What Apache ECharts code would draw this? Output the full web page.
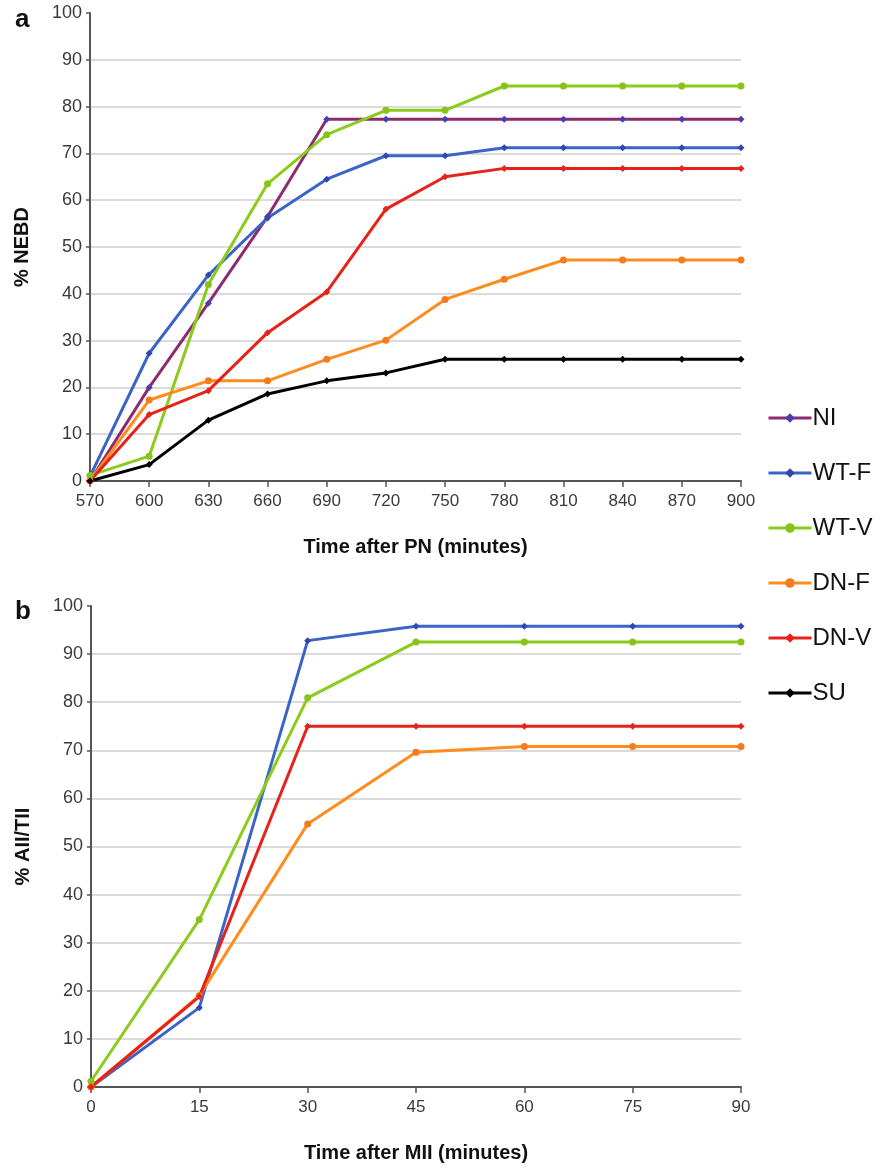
<!DOCTYPE html>
<html>
<head>
<meta charset="utf-8">
<script src="https://cdn.jsdelivr.net/npm/echarts@6/dist/echarts.min.js"></script>
<style>
  html, body { margin: 0; padding: 0; background: #fff; }
  #main { width: 890px; height: 1168px; }
</style>
</head>
<body>
<div id="main"></div>
<script>
// panel a: time after PN (minutes)
var timePN = [570, 600, 630, 660, 690, 720, 750, 780, 810, 840, 870, 900];
var niA   = [0, 20, 38, 56.5, 77.3, 77.3, 77.3, 77.3, 77.3, 77.3, 77.3, 77.3];
var wtfA  = [1, 27.3, 44, 56.2, 64.5, 69.5, 69.5, 71.2, 71.2, 71.2, 71.2, 71.2];
var wtvA  = [1.2, 5.3, 42, 63.5, 74, 79.2, 79.2, 84.4, 84.4, 84.4, 84.4, 84.4];
var dnfA  = [0, 17.3, 21.4, 21.4, 26, 30.1, 38.8, 43.1, 47.2, 47.2, 47.2, 47.2];
var dnvA  = [0, 14.2, 19.3, 31.7, 40.4, 58.1, 65, 66.8, 66.8, 66.8, 66.8, 66.8];
var suA   = [0, 3.5, 13, 18.6, 21.4, 23.1, 26, 26, 26, 26, 26, 26];

// panel b: time after MII (minutes)
var timeMII = [0, 15, 30, 45, 60, 75, 90];
var wtfB  = [0, 16.5, 92.8, 95.8, 95.8, 95.8, 95.8];
var wtvB  = [1.2, 34.8, 80.9, 92.5, 92.5, 92.5, 92.5];
var dnfB  = [0, 19, 54.7, 69.6, 70.8, 70.8, 70.8];
var dnvB  = [0, 18.8, 75, 75, 75, 75, 75];

var names = ['NI', 'WT-F', 'WT-V', 'DN-F', 'DN-V', 'SU'];

var FONT = "'Liberation Sans', Arial, sans-serif";

var styles = {
    'NI':   { line: '#8b2c70', dot: '#4a3cb4', symbol: 'diamond' },
    'WT-F': { line: '#3c64c8', dot: '#3346b0', symbol: 'diamond' },
    'WT-V': { line: '#8ccb1c', dot: '#86c41a', symbol: 'circle' },
    'DN-F': { line: '#ff8d1e', dot: '#f57a20', symbol: 'circle' },
    'DN-V': { line: '#e5231b', dot: '#e5231b', symbol: 'diamond' },
    'SU':   { line: '#000000', dot: '#000000', symbol: 'diamond' }
};

function zip(xs, ys) {
    return xs.map(function (x, i) { return [x, ys[i]]; });
}

function makeSeries(name, idx, xs, ys) {
    var s = styles[name];
    return {
        name: name,
        type: 'line',
        xAxisIndex: idx,
        yAxisIndex: idx,
        data: zip(xs, ys),
        symbol: s.symbol,
        symbolSize: 7,
        lineStyle: { color: s.line, width: 3 },
        itemStyle: { color: s.dot },
        animation: false
    };
}

function yAxisOf(idx, title) {
    return {
        gridIndex: idx,
        type: 'value',
        min: 0, max: 100, interval: 10,
        name: title,
        nameLocation: 'middle',
        nameGap: 58,
        nameTextStyle: { fontFamily: FONT, fontSize: 20, fontWeight: 'bold', color: '#111' },
        axisLine: { show: true, lineStyle: { color: '#555', width: 2 } },
        axisTick: { show: true, length: 4, lineStyle: { color: '#555', width: 1.5 } },
        axisLabel: { fontFamily: FONT, fontSize: 18, color: '#3a3a3a', margin: 8 },
        splitLine: { show: true, showMaxLine: false, lineStyle: { color: '#cfcfcf', width: 1.5 } }
    };
}

function xAxisOf(idx, xs, step, title) {
    return {
        gridIndex: idx,
        type: 'value',
        min: xs[0], max: xs[xs.length - 1], interval: step,
        name: title,
        nameLocation: 'middle',
        nameGap: 56,
        nameTextStyle: { fontFamily: FONT, fontSize: 20, fontWeight: 'bold', color: '#111', verticalAlign: 'top' },
        axisLine: { show: true, lineStyle: { color: '#555', width: 2 } },
        axisTick: { show: true, length: 6, inside: false, lineStyle: { color: '#555', width: 1.5 } },
        axisLabel: { fontFamily: FONT, fontSize: 17, color: '#3a3a3a', margin: 12 },
        splitLine: { show: false }
    };
}

var series = [
    makeSeries('NI', 0, timePN, niA),
    makeSeries('WT-F', 0, timePN, wtfA),
    makeSeries('WT-V', 0, timePN, wtvA),
    makeSeries('DN-F', 0, timePN, dnfA),
    makeSeries('DN-V', 0, timePN, dnvA),
    makeSeries('SU', 0, timePN, suA),
    makeSeries('WT-F', 1, timeMII, wtfB),
    makeSeries('WT-V', 1, timeMII, wtvB),
    makeSeries('DN-F', 1, timeMII, dnfB),
    makeSeries('DN-V', 1, timeMII, dnvB)
];

var chart = echarts.init(document.getElementById('main'), null, { renderer: 'canvas' });
chart.setOption({
    backgroundColor: '#fff',
    animation: false,
    title: [
        { text: 'a', left: 10, top: 2, textStyle: { fontFamily: FONT, fontSize: 26, fontWeight: 'bold', color: '#111' } },
        { text: 'b', left: 10, top: 594, textStyle: { fontFamily: FONT, fontSize: 26, fontWeight: 'bold', color: '#111' } }
    ],
    legend: {
        data: names,
        orient: 'vertical',
        left: 762,
        top: 401,
        itemWidth: 43,
        itemHeight: 12,
        itemGap: 31,
        lineStyle: { width: 3 },
        textStyle: { fontFamily: FONT, fontSize: 24, color: '#111', lineHeight: 24, padding: [0, 0, 0, -4] }
    },
    grid: [
        { left: 90, right: 149, top: 13, height: 468 },
        { left: 91, right: 149, top: 606, height: 481 }
    ],
    xAxis: [
        xAxisOf(0, timePN, 30, 'Time after PN (minutes)'),
        xAxisOf(1, timeMII, 15, 'Time after MII (minutes)')
    ],
    yAxis: [
        yAxisOf(0, '% NEBD'),
        yAxisOf(1, '% AII/TII')
    ],
    series: series
});
</script>
</body>
</html>
